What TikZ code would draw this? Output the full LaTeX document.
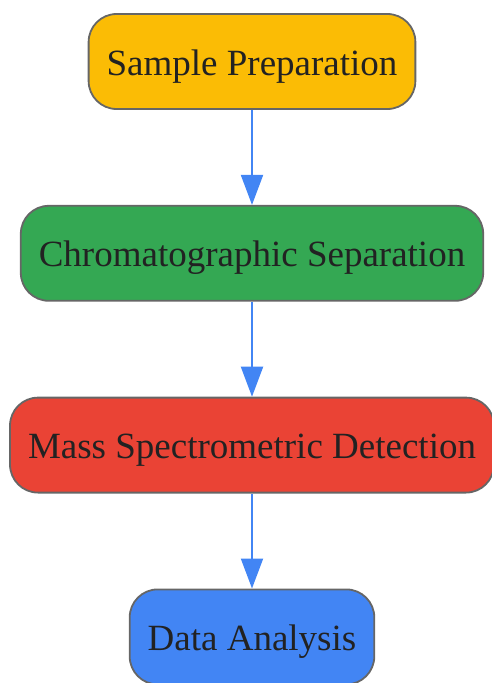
\documentclass[tikz,border=0pt]{standalone}
\usepackage{fontspec}
\setmainfont{Liberation Serif}
\usetikzlibrary{positioning,arrows.meta}
\definecolor{gyellow}{HTML}{FBBC05}
\definecolor{ggreen}{HTML}{34A853}
\definecolor{gred}{HTML}{EA4335}
\definecolor{gblue}{HTML}{4285F4}
\definecolor{edgegray}{HTML}{666666}
\definecolor{textgray}{HTML}{222222}
\tikzset{
  stage/.style={draw=edgegray,line width=1.8pt,rounded corners=28pt,
    minimum height=95pt,inner xsep=18pt,text height=27pt,text depth=0pt,
    text=textgray,font=\fontsize{37}{44}\selectfont},
  flow/.style={draw=gblue,line width=2pt,-{Triangle[length=30pt,width=22pt]}}
}
\begin{document}
\begin{tikzpicture}[node distance=95pt]
\useasboundingbox (0,0) rectangle (491pt,-683pt);
\node [stage,fill=gyellow] (prep) at (252pt,-61.5pt) {Sample Preparation};
\node [stage,fill=ggreen,below=of prep] (chrom) {Chromatographic Separation};
\node [stage,fill=gred,below=of chrom] (mass) {Mass Spectrometric Detection};
\node [stage,fill=gblue,below=of mass] (data) {Data Analysis};
\draw [flow] (prep) -- (chrom);
\draw [flow] (chrom) -- (mass);
\draw [flow] (mass) -- (data);
\end{tikzpicture}
\end{document}
